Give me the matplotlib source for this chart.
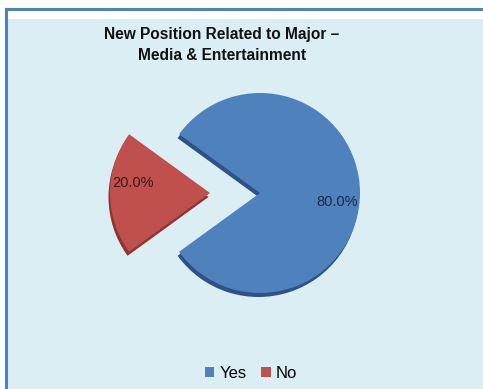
import matplotlib.pyplot as plt
from matplotlib.patches import Rectangle

labels = ["Yes", "No"]
values = [80.0, 20.0]
colors = ["#4F81BD", "#C0504D"]
shadow_colors = ["#2E5287", "#8E3431"]

W, H = 483, 389
fig = plt.figure(figsize=(W / 100, H / 100), dpi=100)
fig.patch.set_facecolor("white")

ax = fig.add_axes([0, 0, 1, 1])

cx, cy, r = 260, H - 193, 100
explode = [0.0, 50.0]  # pie() takes explode in data units

font = ["Liberation Sans Narrow", "Liberation Sans", "DejaVu Sans"]

# chart area with blue frame on the top and left
ax.add_patch(Rectangle((6, -5), W, H - 14, facecolor="#DBEEF4",
                       edgecolor="none", zorder=0))
ax.plot([6, 6], [0, H - 9], color="#4F81BD", lw=2.2, zorder=1)
ax.plot([6, W], [H - 9, H - 9], color="#4F81BD", lw=2.2, zorder=1)

ax.text(222, H - 45, "New Position Related to Major –\nMedia & Entertainment",
        ha="center", va="center", fontsize=11.2, fontweight="bold",
        family=font, color="#111111", linespacing=1.55)

# depth edge of the pie
ax.pie(values, colors=shadow_colors, explode=explode, startangle=-144,
       center=(cx - 1.5, cy - 4), radius=r, frame=True,
       wedgeprops=dict(linewidth=0))
wedges, _, autotexts = ax.pie(values, colors=colors, explode=explode,
                              startangle=-144, center=(cx, cy), radius=r,
                              frame=True, autopct="%1.1f%%",
                              wedgeprops=dict(linewidth=0),
                              textprops=dict(fontsize=10.5, family=font))
autotexts[0].set_color("#1B2A45")
autotexts[1].set_color("#3A1A1A")
autotexts[0].set_position((337, H - 202))
autotexts[1].set_position((133, H - 183))

ax.set_xlim(0, W)
ax.set_ylim(0, H)
ax.set_aspect("equal")
ax.axis("off")

ax.legend(wedges, labels, loc="center", bbox_to_anchor=(251 / W, 16 / H),
          ncol=2, frameon=False, handlelength=0.55, handleheight=0.55,
          handletextpad=0.3, columnspacing=0.9,
          prop=dict(family=font, size=12))

fig.savefig("out.png", dpi=100, facecolor=fig.get_facecolor())
